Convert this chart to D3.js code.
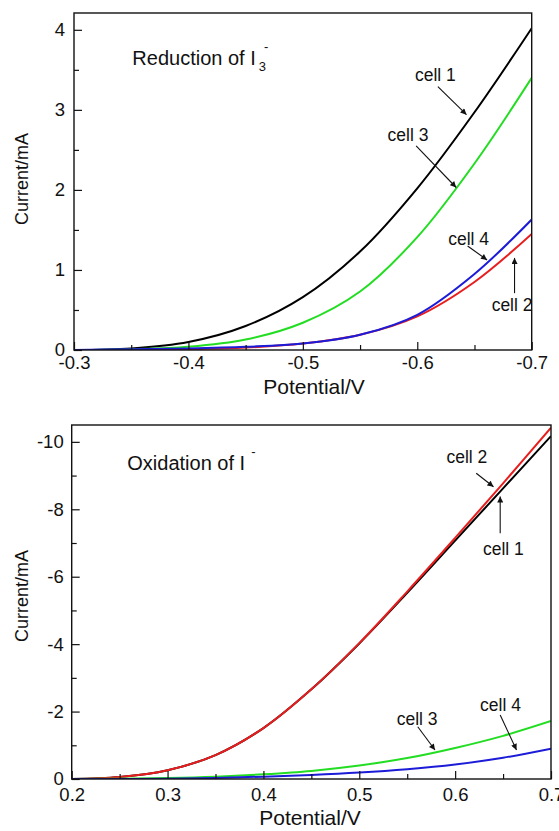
<!DOCTYPE html>
<html>
<head>
<meta charset="utf-8">
<script src="https://cdn.jsdelivr.net/npm/d3@7"></script>
<style>
  html, body { margin: 0; padding: 0; background: #fff; }
  svg { display: block; }
  text { font-family: "Liberation Sans", Arial, Helvetica, sans-serif; fill: #111; }
</style>
</head>
<body>
<svg id="chart" width="559" height="831"></svg>
<script>
// ---------- DATA ----------
// Top panel: reduction of I3-
const redPotential = [-0.30, -0.35, -0.40, -0.45, -0.50, -0.55, -0.60, -0.65, -0.70];
const redCell1 = [0.00, 0.02, 0.10, 0.30, 0.66, 1.23, 2.02, 2.97, 4.02];
const redCell2 = [0.00, 0.00, 0.01, 0.03, 0.08, 0.19, 0.42, 0.85, 1.45];
const redCell3 = [0.00, 0.01, 0.04, 0.13, 0.34, 0.73, 1.41, 2.33, 3.40];
const redCell4 = [0.00, 0.01, 0.02, 0.04, 0.08, 0.19, 0.44, 0.95, 1.63];
const redXTicks = [-0.3, -0.4, -0.5, -0.6, -0.7];
const redXMinor = [-0.35, -0.45, -0.55, -0.65];
const redYTicks = [0, 1, 2, 3, 4];
const redYMinor = [0.5, 1.5, 2.5, 3.5];

// Bottom panel: oxidation of I-
const oxPotential = [0.20, 0.25, 0.30, 0.35, 0.40, 0.45, 0.50, 0.55, 0.60, 0.65, 0.70];
const oxCell1 = [0, -0.06, -0.26, -0.71, -1.51, -2.66, -4.02, -5.52, -7.07, -8.62, -10.17];
const oxCell2 = [0, -0.06, -0.26, -0.71, -1.51, -2.66, -4.03, -5.56, -7.15, -8.77, -10.42];
const oxCell3 = [0, -0.01, -0.03, -0.07, -0.14, -0.24, -0.40, -0.62, -0.92, -1.28, -1.72];
const oxCell4 = [0, 0, -0.01, -0.03, -0.07, -0.12, -0.19, -0.29, -0.43, -0.63, -0.90];
const oxXTicks = [0.2, 0.3, 0.4, 0.5, 0.6, 0.7];
const oxXMinor = [0.25, 0.35, 0.45, 0.55, 0.65];
const oxYTicks = [0, -2, -4, -6, -8, -10];
const oxYMinor = [-1, -3, -5, -7, -9];

const cellNames = ["cell 1", "cell 2", "cell 3", "cell 4"];
const cellColors = ["#000000", "#e81e1e", "#22dd22", "#1c1cd8"];

// Annotations (data coordinates)
const redLabels = [
  { text: "cell 1", x: -0.598, y: 3.36, ax1: -0.618, ay1: 3.29, ax2: -0.643, ay2: 2.94 },
  { text: "cell 3", x: -0.574, y: 2.61, ax1: -0.599, ay1: 2.55, ax2: -0.634, ay2: 2.03 },
  { text: "cell 4", x: -0.627, y: 1.31, ax1: -0.644, ay1: 1.30, ax2: -0.661, ay2: 1.125 },
  { text: "cell 2", x: -0.665, y: 0.49, ax1: -0.685, ay1: 0.71, ax2: -0.685, ay2: 1.15 }
];
const oxLabels = [
  { text: "cell 2", x: 0.591, y: -9.38, ax1: 0.622, ay1: -9.07, ax2: 0.640, ay2: -8.67 },
  { text: "cell 1", x: 0.629, y: -6.65, ax1: 0.647, ay1: -7.29, ax2: 0.647, ay2: -8.38 },
  { text: "cell 3", x: 0.539, y: -1.60, ax1: 0.561, ay1: -1.55, ax2: 0.579, ay2: -0.86 },
  { text: "cell 4", x: 0.626, y: -2.02, ax1: 0.647, ay1: -1.90, ax2: 0.664, ay2: -0.86 }
];

// ---------- DRAW ----------
const svg = d3.select("#chart");

const defs = svg.append("defs");
defs.append("marker")
  .attr("id", "arrow")
  .attr("viewBox", "0 0 10 10")
  .attr("refX", 10).attr("refY", 5)
  .attr("markerWidth", 7).attr("markerHeight", 6)
  .attr("markerUnits", "userSpaceOnUse")
  .attr("orient", "auto")
  .append("path").attr("d", "M0,0 L10,5 L0,10 Z").attr("fill", "#111");

function drawPanel(cfg) {
  const x = d3.scaleLinear().domain(cfg.xDomain).range([cfg.left, cfg.right]);
  const y = d3.scaleLinear().domain(cfg.yDomain).range([cfg.bottom, cfg.top]);
  const g = svg.append("g");

  const fmtX = d => d.toFixed(1);
  const fmtY = d => String(d);

  // curves
  const line = d3.line().x(d => x(d[0])).y(d => y(d[1])).curve(d3.curveCatmullRom.alpha(0.5));
  const clipId = "clip" + cfg.id;
  defs.append("clipPath").attr("id", clipId)
    .append("rect").attr("x", cfg.left).attr("y", cfg.top)
    .attr("width", cfg.right - cfg.left).attr("height", cfg.bottom - cfg.top);
  const curves = g.append("g").attr("clip-path", `url(#${clipId})`);
  cfg.order.forEach(i => {
    const pts = cfg.xs.map((v, k) => [v, cfg.series[i][k]]);
    curves.append("path")
      .attr("d", line(pts))
      .attr("fill", "none")
      .attr("stroke", cellColors[i])
      .attr("stroke-width", 2);
  });

  // axes
  const xa = g.append("g").attr("transform", `translate(0,${cfg.bottom})`);
  xa.call(d3.axisBottom(x).tickValues(cfg.xTicks).tickSize(-8).tickPadding(cfg.xPad).tickFormat(fmtX));
  const xm = g.append("g").attr("transform", `translate(0,${cfg.bottom})`);
  xm.call(d3.axisBottom(x).tickValues(cfg.xMinor).tickSize(-5).tickFormat(""));
  const ya = g.append("g").attr("transform", `translate(${cfg.left},0)`);
  ya.call(d3.axisLeft(y).tickValues(cfg.yTicks).tickSize(-8).tickPadding(cfg.yPad).tickFormat(fmtY));
  const ym = g.append("g").attr("transform", `translate(${cfg.left},0)`);
  ym.call(d3.axisLeft(y).tickValues(cfg.yMinor).tickSize(-5).tickFormat(""));
  [xa, xm, ya, ym].forEach(a => {
    a.select(".domain").remove();
    a.selectAll(".tick line").attr("stroke", "#111").attr("stroke-width", 1.2);
    a.selectAll(".tick text")
      .attr("font-family", "'Liberation Sans', Arial, sans-serif")
      .attr("font-size", 18.5).attr("fill", "#111");
  });

  // frame
  g.append("rect")
    .attr("x", cfg.left).attr("y", cfg.top)
    .attr("width", cfg.right - cfg.left).attr("height", cfg.bottom - cfg.top)
    .attr("fill", "none").attr("stroke", "#111").attr("stroke-width", 1.4);

  // axis titles
  g.append("text")
    .attr("x", cfg.xTitleX).attr("y", cfg.bottom + cfg.xTitleOff)
    .attr("text-anchor", "middle").attr("font-size", 21)
    .text("Potential/V");
  g.append("text")
    .attr("transform", `translate(28,${cfg.yTitleY}) rotate(-90)`)
    .attr("text-anchor", "middle").attr("font-size", 18)
    .text("Current/mA");

  // panel title
  const t = g.append("text")
    .attr("x", x(cfg.title.x)).attr("y", y(cfg.title.y))
    .attr("font-size", 20);
  t.append("tspan").text(cfg.title.main);
  if (cfg.title.sub) {
    t.append("tspan").attr("font-size", 13).attr("dx", 3).attr("dy", 6).text(cfg.title.sub);
    t.append("tspan").attr("font-size", 13).attr("dx", -2).attr("dy", -20).text("-");
  } else {
    t.append("tspan").attr("font-size", 13).attr("dx", 6).attr("dy", -14).text("-");
  }

  // annotations
  cfg.labels.forEach(l => {
    g.append("text")
      .attr("x", x(l.x)).attr("y", y(l.y))
      .attr("font-size", 17.5)
      .text(l.text);
    g.append("line")
      .attr("x1", x(l.ax1)).attr("y1", y(l.ay1))
      .attr("x2", x(l.ax2)).attr("y2", y(l.ay2))
      .attr("stroke", "#111").attr("stroke-width", 1.1)
      .attr("marker-end", "url(#arrow)");
  });
}

drawPanel({
  id: "top",
  xDomain: [-0.3, -0.7], yDomain: [0, 4.21],
  left: 74, right: 531.7, top: 13, bottom: 350,
  xs: redPotential,
  series: [redCell1, redCell2, redCell3, redCell4],
  order: [0, 2, 1, 3],
  xTicks: redXTicks, xMinor: redXMinor, yTicks: redYTicks, yMinor: redYMinor,
  xPad: 6, yPad: 9,
  xTitleX: 314, xTitleOff: 44, yTitleY: 179,
  title: { main: "Reduction of I", sub: "3", x: -0.351, y: 3.56 },
  labels: redLabels
});

drawPanel({
  id: "bottom",
  xDomain: [0.2, 0.7], yDomain: [0, -10.5],
  left: 71.7, right: 551, top: 425, bottom: 779,
  xs: oxPotential,
  series: [oxCell1, oxCell2, oxCell3, oxCell4],
  order: [0, 1, 2, 3],
  xTicks: oxXTicks, xMinor: oxXMinor, yTicks: oxYTicks, yMinor: oxYMinor,
  xPad: 9, yPad: 8,
  xTitleX: 310, xTitleOff: 46, yTitleY: 596,
  title: { main: "Oxidation of I", sub: null, x: 0.258, y: -9.17 },
  labels: oxLabels
});
</script>
</body>
</html>
